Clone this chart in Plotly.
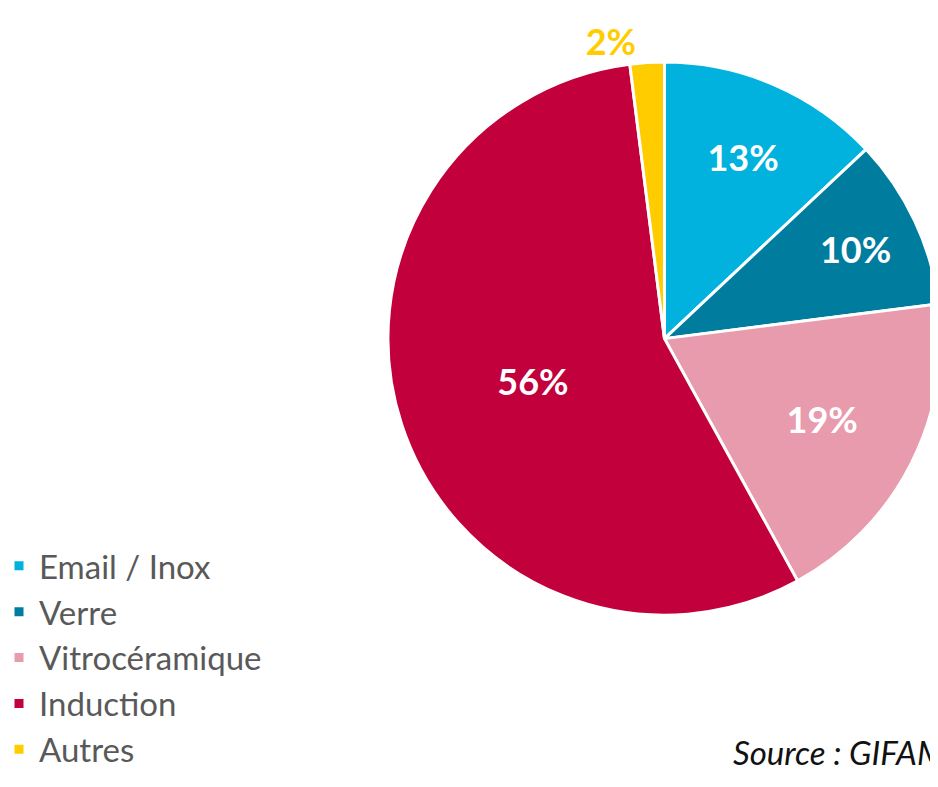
import plotly.graph_objects as go

categories = ["Email / Inox", "Verre", "Vitrocéramique", "Induction", "Autres"]
values = [13, 10, 19, 56, 2]
colors = ["#00B2DD", "#007C9E", "#E89BAC", "#C2003C", "#FFCC00"]
text_positions = ["inside", "inside", "inside", "inside", "outside"]
source_text = "Source : GIFAM"

W, H = 938, 787

fig = go.Figure()
fig.add_trace(go.Pie(
    labels=categories,
    values=values,
    sort=False,
    direction="clockwise",
    rotation=0,
    marker=dict(colors=colors, line=dict(color="white", width=3)),
    texttemplate="%{value}%",
    textposition=text_positions,
    insidetextfont=dict(family="Lato", size=36, color="white", weight="bold"),
    outsidetextfont=dict(family="Lato", size=36, color="#FFCC00", weight="bold"),
    insidetextorientation="horizontal",
    hoverinfo="label+percent",
    domain=dict(x=[382 / W, 1.0], y=[1 - 598 / H, 1.0]),
    showlegend=True,
))

fig.add_annotation(
    text=source_text, xref="paper", yref="paper",
    x=727 / W, y=1 - 741 / H, xanchor="left", yanchor="middle",
    showarrow=False,
    font=dict(family="Lato", size=33, color="#111111", style="italic"),
)

fig.update_layout(
    width=W, height=H,
    margin=dict(l=0, r=0, t=0, b=0),
    paper_bgcolor="white",
    plot_bgcolor="white",
    legend=dict(
        x=0, y=1 - 512 / H, xanchor="left", yanchor="top",
        indentation=-9,
        font=dict(family="Lato", size=33, color="#595959"),
        bgcolor="rgba(0,0,0,0)",
        itemclick=False,
    ),
)

fig.write_html("out.html")
